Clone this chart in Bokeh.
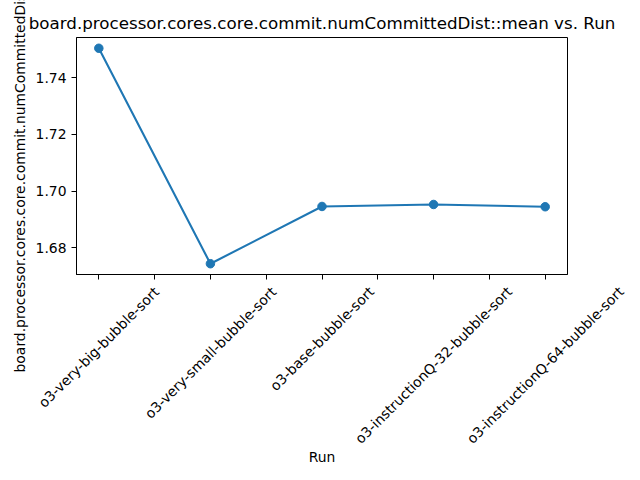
from bokeh.plotting import figure
from bokeh.models import FixedTicker, PrintfTickFormatter, Range1d
from bokeh.core.properties import value
from bokeh.layouts import column
from bokeh.embed import file_html
from bokeh.resources import INLINE
import math

runs = [
    "o3-very-big-bubble-sort",
    "o3-very-small-bubble-sort",
    "o3-base-bubble-sort",
    "o3-instructionQ-32-bubble-sort",
    "o3-instructionQ-64-bubble-sort",
]
values = [1.7504, 1.6744, 1.6946, 1.6953, 1.6945]
y_ticks = [1.68, 1.70, 1.72, 1.74]

title = "board.processor.cores.core.commit.numCommittedDist::mean vs. Run"
y_label = "board.processor.cores.core.commit.numCommittedDist::mean"
x_label = "Run"

FONT = "DejaVu Sans"
BLUE = "#1f77b4"

W, H = 640, 480
BL, BR, BT, BB = 76, 73, 37, 206
FRAME_BOTTOM = H - BB
STRIP_TOP = 280               # overlay strip for the rotated category labels
STRIP_H = H - STRIP_TOP

xs = list(range(len(runs)))
x0, x1 = -0.2, len(runs) - 1 + 0.2
vmin, vmax = min(values), max(values)
pad = 0.05 * (vmax - vmin)

p = figure(width=W, height=H, output_backend="svg", toolbar_location=None,
           x_range=Range1d(x0, x1), y_range=Range1d(vmin - pad, vmax + pad),
           min_border_left=BL, min_border_right=BR, min_border_top=BT,
           min_border_bottom=BB)
p.frame_align = False

p.title.text = title
p.title.text_font = FONT
p.title.text_font_size = "16.7px"
p.title.text_font_style = "normal"
p.title.align = "center"
p.title.text_color = "black"

p.line(xs, values, line_color=BLUE, line_width=2.1)
p.scatter(xs, values, size=8.5, fill_color=BLUE, line_color=BLUE)

p.xgrid.visible = False
p.ygrid.visible = False
p.outline_line_color = "black"
p.outline_line_alpha = 1
p.outline_line_width = 1
p.background_fill_color = "white"
p.border_fill_color = "white"

for ax in (p.xaxis[0], p.yaxis[0]):
    ax.axis_line_color = "black"
    ax.major_tick_line_color = "black"
    ax.major_tick_out = 5
    ax.major_tick_in = 0
    ax.minor_tick_line_color = None
    ax.major_label_text_font = FONT
    ax.major_label_text_font_size = "13.9px"
    ax.major_label_text_color = "black"
    ax.axis_label_text_font = FONT
    ax.axis_label_text_font_size = "13.9px"
    ax.axis_label_text_font_style = "normal"
    ax.axis_label_text_color = "black"

half_ticks = [i / 2 for i in range(2 * len(runs) - 1)]
p.xaxis.ticker = FixedTicker(ticks=half_ticks)
p.xaxis.major_label_overrides = {t: "" for t in half_ticks}
p.xaxis.axis_label = x_label
p.xaxis.axis_label_standoff = 169

p.yaxis.ticker = FixedTicker(ticks=y_ticks)
p.yaxis.formatter = PrintfTickFormatter(format="%.2f")
p.yaxis.axis_label = y_label

# ---- transparent overlay strip: rotated, centre-aligned category labels
pxu = (W - BL - BR) / (x1 - x0)
p2 = figure(width=W, height=STRIP_H, output_backend="svg", toolbar_location=None,
            x_range=Range1d(x0 - BL / pxu, x1 + BR / pxu),
            y_range=Range1d(H, STRIP_TOP),
            x_axis_type=None, y_axis_type=None,
            min_border=0, min_border_left=0, min_border_right=0,
            min_border_top=0, min_border_bottom=0,
            margin=(-STRIP_H, 0, 0, 0))
p2.frame_align = False
p2.xgrid.visible = False
p2.ygrid.visible = False
p2.outline_line_color = None
p2.background_fill_color = None
p2.border_fill_color = None

adv = {'o': 1253, '3': 1303, '-': 739, 'v': 1212, 'e': 1260, 'r': 842, 'y': 1212,
       'b': 1300, 'i': 569, 'g': 1300, 'u': 1298, 'l': 569, 's': 1067, 't': 803,
       'm': 1995, 'a': 1255, 'n': 1298, 'c': 1126, 'Q': 1612, '2': 1303, '6': 1303,
       '4': 1303}
fs = 13.9
def text_w(s):
    return sum(adv.get(ch, 1250) for ch in s) / 2048 * fs

c45 = math.cos(math.pi / 4)
label_y = [FRAME_BOTTOM + 10 + (text_w(r) + 13) * c45 / 2 for r in runs]
p2.text(x=xs, y=label_y, text=runs, angle=math.pi / 4,
        text_align="center", text_baseline="middle",
        text_font=value(FONT), text_font_size=value("13.9px"), text_color="black")

layout = column(p, p2, spacing=0)
open("out.html", "w").write(file_html(layout, INLINE))
